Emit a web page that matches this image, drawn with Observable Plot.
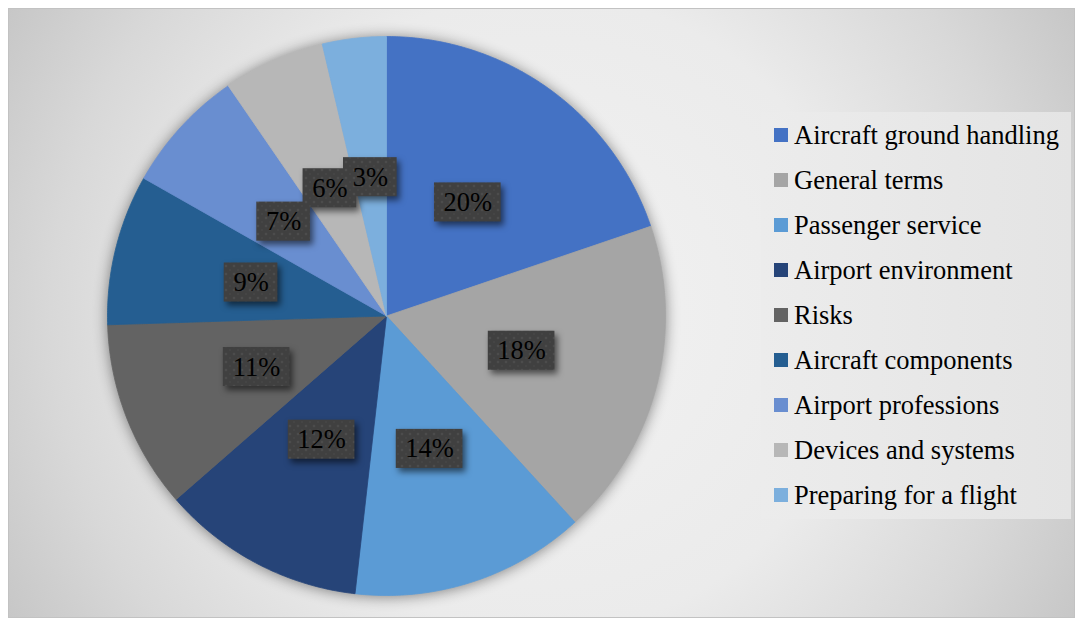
<!DOCTYPE html>
<html>
<head>
<meta charset="utf-8">
<script src="https://cdn.jsdelivr.net/npm/d3@7"></script>
<script src="https://cdn.jsdelivr.net/npm/@observablehq/plot@0.6"></script>
<style>
  html, body { margin: 0; padding: 0; width: 1076px; height: 619px; overflow: hidden; background: #ffffff; }
  #frame {
    position: absolute; left: 8px; top: 8px; width: 1067px; height: 610px; box-sizing: border-box;
    border: 1px solid #c2c2c2;
    background: radial-gradient(circle farthest-corner at 50% 50%, #f2f2f2 0%, #ebebeb 52%, #d8d8d8 80%, #c7c7c7 100%);
  }
  #plot { position: absolute; left: 0; top: 0; }
  #legend {
    position: absolute; left: 761px; top: 112px; width: 310px; height: 407px;
    background: linear-gradient(to right, #ececec, #e4e4e4);
    font-family: "Liberation Serif", "Times New Roman", serif; font-size: 26.5px; color: #000;
  }
  .item { position: absolute; left: 13px; height: 30px; display: flex; align-items: center; white-space: nowrap; }
  .sw { width: 14px; height: 14px; margin-right: 6px; flex: none; }
</style>
</head>
<body>
<div id="frame"></div>
<div id="plot"></div>
<div id="legend"></div>
<script>
// ---- data ----
const categories = ["Aircraft ground handling", "General terms", "Passenger service", "Airport environment", "Risks", "Aircraft components", "Airport professions", "Devices and systems", "Preparing for a flight"];
const shares = [19.8, 18.4, 13.6, 11.8, 10.9, 8.7, 7.2, 5.9, 3.7];
const labels = ["20%", "18%", "14%", "12%", "11%", "9%", "7%", "6%", "3%"];
const colors = ["#4472C4", "#A5A5A5", "#5B9BD5", "#264478", "#636363", "#255E91", "#698ED0", "#B7B7B7", "#7CAFDD"];

// ---- layout ----
const xRange = [107, 665];
const yRange = [595, 36];
const pxPerUnit = (xRange[1] - xRange[0]) / 2;

const arcs = d3.pie().sort(null).value((d, i) => shares[i])(categories);

// slice polygons (angles from the data, measured clockwise from 12 o'clock)
const slicePts = [];
arcs.forEach((a, i) => {
  const name = categories[i];
  slicePts.push({name, x: 0, y: 0});
  const n = Math.max(2, Math.ceil((a.endAngle - a.startAngle) / (Math.PI / 360)));
  for (let k = 0; k <= n; k++) {
    const t = a.startAngle + (a.endAngle - a.startAngle) * k / n;
    slicePts.push({name, x: Math.sin(t), y: Math.cos(t)});
  }
  slicePts.push({name, x: 0, y: 0});
});

// data labels at half radius along the mid angle
const fontSize = 26.5;
const labelData = arcs.map((a, i) => {
  const m = (a.startAngle + a.endAngle) / 2;
  const cx = 0.5 * Math.sin(m), cy = 0.5 * Math.cos(m);
  const digits = labels[i].length - 1;
  const wPx = 19 + 26 * (0.5 * digits + 0.833);
  const hPx = 39;
  const hw = wPx / 2 / pxPerUnit, hh = hPx / 2 / pxPerUnit;
  return {label: labels[i], x: cx, y: cy, x1: cx - hw, x2: cx + hw, y1: cy - hh, y2: cy + hh};
});

const svg = Plot.plot({
  width: 1076,
  height: 619,
  margin: 0,
  style: {background: "transparent", overflow: "visible"},
  x: {domain: [-1, 1], range: xRange, axis: null},
  y: {domain: [-1, 1], range: yRange, axis: null},
  color: {type: "ordinal", domain: categories, range: colors},
  marks: [
    Plot.line(slicePts, {x: "x", y: "y", z: "name", fill: "name", stroke: "name", strokeWidth: 0.8}),
    Plot.rect(labelData, {x1: "x1", x2: "x2", y1: "y1", y2: "y2", fill: "url(#dots)"}),
    Plot.text(labelData, {x: "x", y: "y", text: "label", fill: "#000", fontSize: fontSize, fontFamily: "Liberation Serif, Times New Roman, serif"})
  ]
});

const ns = "http://www.w3.org/2000/svg";
const defs = document.createElementNS(ns, "defs");
defs.innerHTML = '<pattern id="dots" width="8" height="8" patternUnits="userSpaceOnUse">' +
  '<rect width="8" height="8" fill="#404040"/>' +
  '<circle cx="2" cy="2" r="1.3" fill="#4c4c4c"/>' +
  '<circle cx="6" cy="6" r="1.1" fill="#464646"/></pattern>';
svg.insertBefore(defs, svg.firstChild);
const sl = svg.querySelector('g[aria-label="line"]');
if (sl) sl.style.filter = "drop-shadow(0px 1px 7px rgba(0,0,0,0.45))";
const lb = svg.querySelector('g[aria-label="rect"]');
if (lb) lb.style.filter = "drop-shadow(3px 4px 3px rgba(0,0,0,0.55))";
document.getElementById("plot").appendChild(svg);

// legend
const legend = document.getElementById("legend");
categories.forEach((c, i) => {
  const it = document.createElement("div");
  it.className = "item";
  it.style.top = (23 + 45 * i - 15) + "px";
  const sw = document.createElement("span");
  sw.className = "sw";
  sw.style.background = colors[i];
  const tx = document.createElement("span");
  tx.textContent = c;
  it.appendChild(sw); it.appendChild(tx);
  legend.appendChild(it);
});
</script>
</body>
</html>
